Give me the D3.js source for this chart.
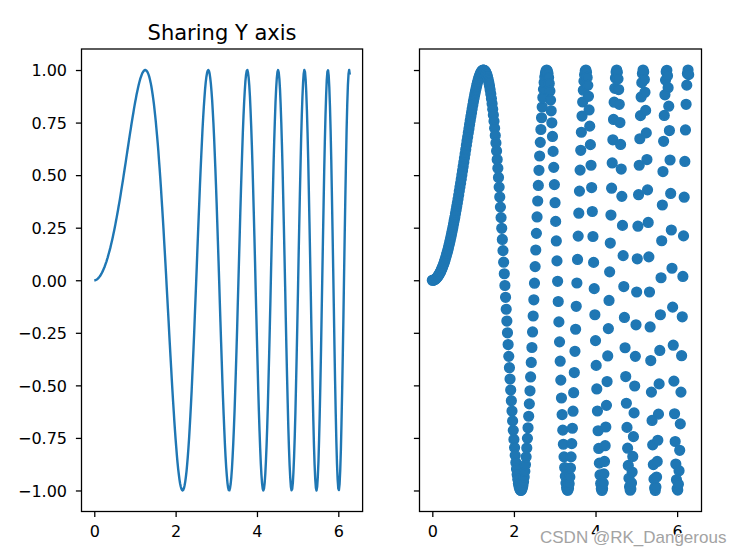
<!DOCTYPE html>
<html><head><meta charset="utf-8">
<script src="https://cdn.jsdelivr.net/npm/d3@7/dist/d3.min.js"></script>
<style>html,body{margin:0;padding:0;background:#fff}svg{display:block}</style>
</head><body>
<svg id="chart" width="738" height="556"></svg>
<script>
// x samples (0 .. 2π)
const xs = [
0,0.016,0.031,0.047,0.063,0.079,0.094,0.110,0.126,0.142,
0.157,0.173,0.189,0.205,0.220,0.236,0.252,0.268,0.283,0.299,
0.315,0.331,0.346,0.362,0.378,0.394,0.409,0.425,0.441,0.457,
0.472,0.488,0.504,0.520,0.535,0.551,0.567,0.583,0.598,0.614,
0.630,0.646,0.661,0.677,0.693,0.709,0.724,0.740,0.756,0.772,
0.787,0.803,0.819,0.835,0.850,0.866,0.882,0.898,0.913,0.929,
0.945,0.961,0.976,0.992,1.008,1.024,1.039,1.055,1.071,1.087,
1.102,1.118,1.134,1.150,1.165,1.181,1.197,1.213,1.228,1.244,
1.260,1.276,1.291,1.307,1.323,1.339,1.354,1.370,1.386,1.402,
1.417,1.433,1.449,1.465,1.480,1.496,1.512,1.527,1.543,1.559,
1.575,1.590,1.606,1.622,1.638,1.653,1.669,1.685,1.701,1.716,
1.732,1.748,1.764,1.779,1.795,1.811,1.827,1.842,1.858,1.874,
1.890,1.905,1.921,1.937,1.953,1.968,1.984,2.000,2.016,2.031,
2.047,2.063,2.079,2.094,2.110,2.126,2.142,2.157,2.173,2.189,
2.205,2.220,2.236,2.252,2.268,2.283,2.299,2.315,2.331,2.346,
2.362,2.378,2.394,2.409,2.425,2.441,2.457,2.472,2.488,2.504,
2.520,2.535,2.551,2.567,2.583,2.598,2.614,2.630,2.646,2.661,
2.677,2.693,2.709,2.724,2.740,2.756,2.772,2.787,2.803,2.819,
2.835,2.850,2.866,2.882,2.898,2.913,2.929,2.945,2.960,2.976,
2.992,3.008,3.023,3.039,3.055,3.071,3.086,3.102,3.118,3.134,
3.149,3.165,3.181,3.197,3.212,3.228,3.244,3.260,3.275,3.291,
3.307,3.323,3.338,3.354,3.370,3.386,3.401,3.417,3.433,3.449,
3.464,3.480,3.496,3.512,3.527,3.543,3.559,3.575,3.590,3.606,
3.622,3.638,3.653,3.669,3.685,3.701,3.716,3.732,3.748,3.764,
3.779,3.795,3.811,3.827,3.842,3.858,3.874,3.890,3.905,3.921,
3.937,3.953,3.968,3.984,4.000,4.016,4.031,4.047,4.063,4.079,
4.094,4.110,4.126,4.142,4.157,4.173,4.189,4.205,4.220,4.236,
4.252,4.268,4.283,4.299,4.315,4.331,4.346,4.362,4.378,4.394,
4.409,4.425,4.441,4.456,4.472,4.488,4.504,4.519,4.535,4.551,
4.567,4.582,4.598,4.614,4.630,4.645,4.661,4.677,4.693,4.708,
4.724,4.740,4.756,4.771,4.787,4.803,4.819,4.834,4.850,4.866,
4.882,4.897,4.913,4.929,4.945,4.960,4.976,4.992,5.008,5.023,
5.039,5.055,5.071,5.086,5.102,5.118,5.134,5.149,5.165,5.181,
5.197,5.212,5.228,5.244,5.260,5.275,5.291,5.307,5.323,5.338,
5.354,5.370,5.386,5.401,5.417,5.433,5.449,5.464,5.480,5.496,
5.512,5.527,5.543,5.559,5.575,5.590,5.606,5.622,5.638,5.653,
5.669,5.685,5.701,5.716,5.732,5.748,5.764,5.779,5.795,5.811,
5.827,5.842,5.858,5.874,5.890,5.905,5.921,5.937,5.952,5.968,
5.984,6.000,6.015,6.031,6.047,6.063,6.078,6.094,6.110,6.126,
6.141,6.157,6.173,6.189,6.204,6.220,6.236,6.252,6.267,6.283
];
// y values
const ys = [
0,0.000,0.001,0.002,0.004,0.006,0.009,0.012,0.016,0.020,
0.025,0.030,0.036,0.042,0.049,0.056,0.063,0.072,0.080,0.089,
0.099,0.109,0.120,0.131,0.142,0.154,0.167,0.180,0.193,0.207,
0.221,0.236,0.251,0.267,0.283,0.299,0.316,0.333,0.351,0.368,
0.386,0.405,0.424,0.443,0.462,0.481,0.501,0.521,0.541,0.561,
0.581,0.601,0.622,0.642,0.662,0.682,0.702,0.721,0.741,0.760,
0.779,0.797,0.815,0.833,0.850,0.866,0.882,0.897,0.911,0.925,
0.937,0.949,0.960,0.969,0.977,0.985,0.990,0.995,0.998,1.000,
1.000,0.998,0.995,0.991,0.984,0.976,0.966,0.954,0.940,0.924,
0.906,0.886,0.864,0.840,0.814,0.786,0.756,0.723,0.689,0.653,
0.615,0.574,0.533,0.489,0.443,0.396,0.348,0.298,0.247,0.194,
0.141,0.086,0.031,-0.025,-0.081,-0.138,-0.194,-0.250,-0.306,-0.362,
-0.416,-0.470,-0.522,-0.573,-0.622,-0.669,-0.714,-0.757,-0.796,-0.833,
-0.867,-0.898,-0.924,-0.947,-0.967,-0.981,-0.992,-0.998,-1.000,-0.997,
-0.989,-0.976,-0.959,-0.936,-0.909,-0.877,-0.840,-0.798,-0.752,-0.702,
-0.647,-0.588,-0.526,-0.460,-0.391,-0.320,-0.246,-0.170,-0.093,-0.014,
0.065,0.144,0.223,0.301,0.377,0.451,0.523,0.591,0.656,0.717,
0.773,0.824,0.869,0.908,0.941,0.967,0.985,0.996,1.000,0.996,
0.984,0.964,0.936,0.900,0.857,0.806,0.749,0.684,0.613,0.537,
0.455,0.369,0.280,0.187,0.092,-0.005,-0.101,-0.198,-0.293,-0.385,
-0.475,-0.560,-0.639,-0.713,-0.780,-0.840,-0.891,-0.932,-0.965,-0.987,
-0.998,-0.999,-0.989,-0.968,-0.936,-0.893,-0.840,-0.777,-0.704,-0.623,
-0.535,-0.439,-0.338,-0.233,-0.124,-0.013,0.099,0.210,0.319,0.424,
0.524,0.618,0.704,0.781,0.848,0.904,0.947,0.978,0.996,1.000,
0.989,0.965,0.927,0.875,0.810,0.733,0.645,0.547,0.441,0.327,
0.208,0.085,-0.040,-0.164,-0.287,-0.405,-0.517,-0.622,-0.716,-0.800,
-0.870,-0.926,-0.967,-0.992,-1.000,-0.991,-0.965,-0.921,-0.862,-0.787,
-0.698,-0.595,-0.482,-0.360,-0.230,-0.096,0.040,0.177,0.310,0.438,
0.558,0.668,0.765,0.847,0.913,0.962,0.991,1.000,0.989,0.958,
0.907,0.837,0.750,0.646,0.529,0.399,0.261,0.117,-0.030,-0.177,
-0.321,-0.458,-0.585,-0.700,-0.799,-0.881,-0.942,-0.982,-0.999,-0.993,
-0.964,-0.912,-0.838,-0.744,-0.631,-0.503,-0.362,-0.212,-0.056,0.102,
0.257,0.407,0.547,0.673,0.783,0.872,0.940,0.983,1.000,0.991,
0.955,0.894,0.808,0.701,0.574,0.430,0.275,0.111,-0.056,-0.222,
-0.382,-0.532,-0.667,-0.783,-0.877,-0.946,-0.988,-1.000,-0.983,-0.936,
-0.862,-0.761,-0.637,-0.493,-0.334,-0.164,0.012,0.188,0.358,0.517,
0.661,0.784,0.882,0.952,0.992,0.999,0.973,0.916,0.828,0.712,
0.572,0.413,0.239,0.057,-0.128,-0.309,-0.480,-0.635,-0.767,-0.874,
-0.949,-0.991,-0.998,-0.970,-0.906,-0.809,-0.683,-0.532,-0.359,-0.174,
0.018,0.211,0.395,0.565,0.715,0.837,0.928,0.983,1.000,0.978
];
const xTickValues = [0, 2, 4, 6];
const yTickValues = [-1.00, -0.75, -0.50, -0.25, 0.00, 0.25, 0.50, 0.75, 1.00];
const yTickLabels = ["\u22121.00", "\u22120.75", "\u22120.50", "\u22120.25", "0.00", "0.25", "0.50", "0.75", "1.00"];
const titleText = "Sharing Y axis";
const watermarkText = "CSDN @RK_Dangerous";

const data = xs.map((x, i) => ({x, y: ys[i]}));
const color = "#1f77b4";
const font = "'DejaVu Sans', sans-serif";
const svg = d3.select("#chart");
const plotTop = 49, plotBottom = 511.5;
const yDomain = [-1.1, 1.1];
const xDomain = [-0.31416, 6.59734];
const y = d3.scaleLinear().domain(yDomain).range([plotBottom, plotTop]);

const panels = [
  {left: 81.5, right: 362.6, kind: "line", labels: true},
  {left: 419.5, right: 701.5, kind: "scatter", labels: false}
];

panels.forEach((p, pi) => {
  const x = d3.scaleLinear().domain(xDomain).range([p.left, p.right]);
  const g = svg.append("g");
  const clipId = "clip" + pi;
  svg.append("clipPath").attr("id", clipId).append("rect")
    .attr("x", p.left).attr("y", plotTop).attr("width", p.right - p.left).attr("height", plotBottom - plotTop);
  const plot = g.append("g").attr("clip-path", `url(#${clipId})`);
  if (p.kind === "line") {
    plot.append("path").datum(data)
      .attr("d", d3.line().x(d => x(d.x)).y(d => y(d.y)))
      .attr("fill", "none").attr("stroke", color).attr("stroke-width", 2.4)
      .attr("stroke-linejoin", "round").attr("stroke-linecap", "butt");
  } else {
    plot.selectAll("circle").data(data).join("circle")
      .attr("cx", d => x(d.x)).attr("cy", d => y(d.y)).attr("r", 4.8)
      .attr("fill", color).attr("stroke", color).attr("stroke-width", 1.6);
  }
  const xa = g.append("g").attr("transform", `translate(0,${plotBottom})`)
    .call(d3.axisBottom(x).tickValues(xTickValues).tickFormat(d3.format("d"))
      .tickSizeInner(5.6).tickSizeOuter(0).tickPadding(5.6));
  xa.select(".domain").remove();
  xa.selectAll(".tick line").attr("stroke", "#000").attr("stroke-width", 1.28);
  xa.selectAll(".tick text").attr("font-family", font).attr("font-size", 16)
    .attr("fill", "#000").attr("y", 25.5).attr("dy", 0);
  const ya = g.append("g").attr("transform", `translate(${p.left},0)`)
    .call(d3.axisLeft(y).tickValues(yTickValues)
      .tickFormat((d, i) => p.labels ? yTickLabels[i] : "")
      .tickSizeInner(5.6).tickSizeOuter(0).tickPadding(5.6));
  ya.select(".domain").remove();
  ya.selectAll(".tick line").attr("stroke", "#000").attr("stroke-width", 1.28);
  ya.selectAll(".tick text").attr("font-family", font).attr("font-size", 16)
    .attr("fill", "#000").attr("x", -14.5).attr("dy", 0).attr("y", 5.8);
  g.append("rect").attr("x", p.left).attr("y", plotTop)
    .attr("width", p.right - p.left).attr("height", plotBottom - plotTop)
    .attr("fill", "none").attr("stroke", "#000").attr("stroke-width", 1.28);
  if (pi === 0) {
    g.append("text").attr("x", (p.left + p.right) / 2).attr("y", 39.5)
      .attr("text-anchor", "middle").attr("font-family", font).attr("font-size", 21)
      .attr("fill", "#000").text(titleText);
  }
});

svg.append("text").attr("x", 540).attr("y", 543)
  .attr("font-family", "'Liberation Sans', Arial, sans-serif").attr("font-size", 17)
  .attr("fill", "#a3a3a3").attr("stroke", "#fff").attr("stroke-width", 2)
  .attr("paint-order", "stroke").text(watermarkText);
</script>
</body></html>
